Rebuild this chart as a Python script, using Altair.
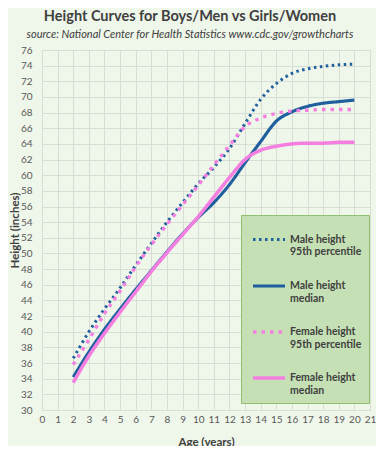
import altair as alt
import pandas as pd

ages = list(range(2, 21))
male_95 = [36.6, 40.0, 42.9, 45.6, 48.5, 51.3, 54.0, 56.5, 58.9, 61.0, 63.4, 66.6, 69.7, 71.7, 73.0, 73.6, 73.9, 74.1, 74.2]
male_50 = [34.2, 37.4, 40.3, 42.9, 45.4, 47.8, 50.2, 52.5, 54.6, 56.5, 58.8, 61.6, 64.3, 66.9, 68.1, 68.8, 69.2, 69.4, 69.6]
female_95 = [35.8, 39.0, 42.3, 45.2, 48.3, 51.1, 53.7, 56.2, 58.7, 61.3, 63.8, 66.2, 67.3, 67.9, 68.2, 68.3, 68.4, 68.4, 68.4]
female_50 = [33.5, 36.9, 39.8, 42.5, 45.1, 47.7, 50.1, 52.4, 54.7, 57.2, 59.7, 62.0, 63.2, 63.7, 64.0, 64.1, 64.1, 64.2, 64.2]

series_names = ["Male height|95th percentile", "Male height|median",
                "Female height|95th percentile", "Female height|median"]
series_colors = ["#1f5f9e", "#1f5f9e", "#f47fe0", "#f47fe0"]
series_dash = [[2.5, 3.5], [1, 0], [3.5, 5], [1, 0]]
series_width = [3, 3.5, 4.5, 3.5]

x_ticks = list(range(0, 22))
y_ticks = list(range(30, 77, 2))

rows = []
for name, vals in zip(series_names, [male_95, male_50, female_95, female_50]):
    for a, v in zip(ages, vals):
        rows.append({"age": a, "height": v, "series": name})
df = pd.DataFrame(rows)

FONT = "Lato"
BG = "#eff6ea"
GRID = "#d8ded3"

legend = alt.Legend(
    orient="none", legendX=199, legendY=165, title=None,
    fillColor="#c5e0b4", strokeColor="#8fc06c", padding=7, symbolOffset=3,
    symbolType="stroke", symbolSize=1024, symbolStrokeWidth=3,
    labelExpr="split(datum.label, '|')",
    labelFont=FONT, labelFontWeight="bold", labelFontSize=10.5,
    labelColor="#404040", labelLimit=200, rowPadding=10, labelOffset=3,
)

chart = alt.Chart(df).mark_line(interpolate="monotone").encode(
    x=alt.X("age:Q", scale=alt.Scale(domain=[0, 21], nice=False),
            axis=alt.Axis(values=x_ticks, title="Age (years)", labelPadding=4,
                          titlePadding=12, labelOverlap=False, labelFlush=False)),
    y=alt.Y("height:Q", scale=alt.Scale(domain=[30, 76], nice=False, zero=False),
            axis=alt.Axis(values=y_ticks, title="Height (inches)", labelPadding=10,
                          titleX=-22, labelOverlap=False)),
    color=alt.Color("series:N", scale=alt.Scale(domain=series_names, range=series_colors), legend=legend),
    strokeDash=alt.StrokeDash("series:N", scale=alt.Scale(domain=series_names, range=series_dash), legend=legend),
    strokeWidth=alt.StrokeWidth("series:N", scale=alt.Scale(domain=series_names, range=series_width), legend=legend),
).properties(
    width=328, height=360,
    autosize=alt.AutoSizeParams(type="none"),
    padding={"left": 34, "top": 42, "right": 6, "bottom": 36},
    background=BG,
    title=alt.TitleParams(
        text="Height Curves for Boys/Men vs Girls/Women",
        subtitle="source: National Center for Health Statistics www.cdc.gov/growthcharts",
        font=FONT, fontSize=14.5, fontWeight="bold", color="#404040",
        subtitleFont=FONT, subtitleFontSize=11, subtitleFontStyle="italic",
        subtitleColor="#404040", subtitlePadding=5,
        anchor="middle", dx=-16, offset=4,
    ),
).configure_view(stroke=GRID).configure_axis(
    grid=True, gridColor=GRID, ticks=False, domainColor=GRID,
    labelFont=FONT, labelFontSize=10, labelColor="#595959",
    titleFont=FONT, titleFontSize=11.5, titleFontWeight="bold", titleColor="#404040",
)

chart.save("out.html", embed_options={"renderer": "svg", "actions": False})
